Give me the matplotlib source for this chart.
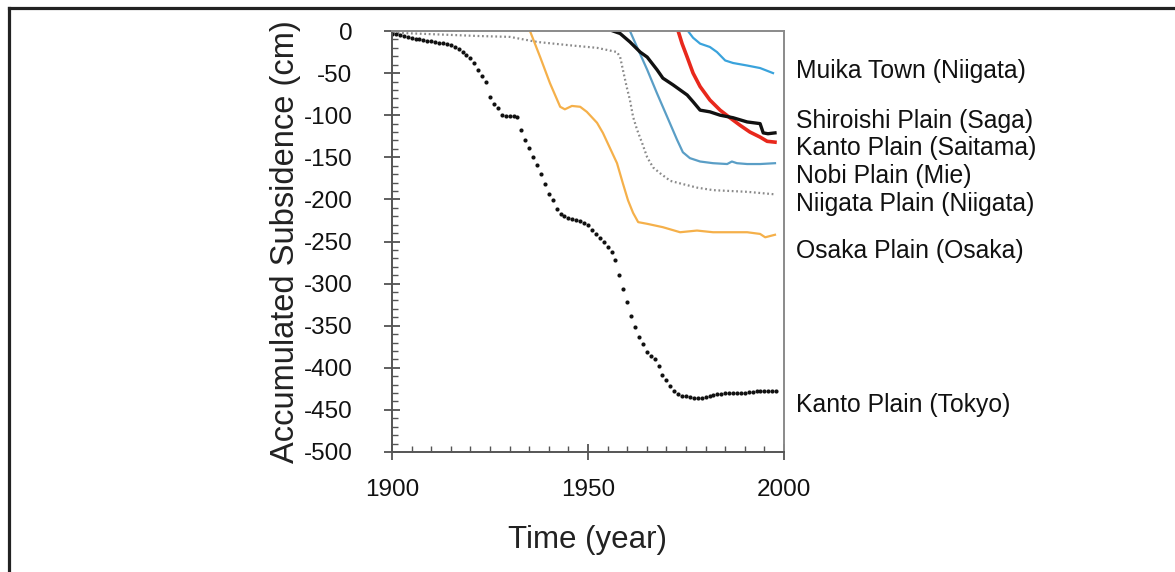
import numpy as np
import matplotlib.pyplot as plt
from matplotlib.lines import Line2D

plt.rcParams["font.family"] = ["Liberation Sans", "DejaVu Sans"]
plt.rcParams["axes.unicode_minus"] = False

# Kanto Plain (Tokyo): yearly values, 1900-1998
tokyo_years = np.arange(1900, 1999)
tokyo_vals = [-3, -4, -5, -6, -7, -8, -9, -10, -11, -12,
              -12, -13, -14, -14, -15, -17, -19, -21, -25, -29,
              -32, -38, -46, -53, -60, -78, -87, -92, -100, -101,
              -101, -101, -102, -118, -130, -139, -150, -159, -170, -182,
              -193, -201, -211, -217, -220, -222, -223, -225, -226, -228,
              -230, -236, -241, -246, -250, -256, -262, -272, -290, -306,
              -322, -338, -352, -363, -372, -381, -386, -390, -398, -408,
              -415, -422, -428, -431, -433, -434, -435, -436, -436, -436,
              -435, -434, -432, -431, -431, -430, -430, -430, -430, -430,
              -430, -429, -429, -428, -428, -428, -428, -428, -428]

niigata_years = [1900.3, 1922.4, 1930.1, 1937.0, 1945.4, 1952.3, 1957.4, 1958.2,
                 1958.9, 1959.9, 1960.7, 1961.5, 1962.5, 1963.8, 1965.1, 1966.6,
                 1968.4, 1971.0, 1973.5, 1977.8, 1981.9, 1986.2, 1990.6, 1997.7]
niigata_vals = [-2, -6, -7, -13, -17, -20, -25, -31, -46, -67, -82, -102, -117,
                -133, -150, -162, -169, -178, -181, -186, -189, -190, -191, -194]

osaka_years = [1935.2, 1937.8, 1940.3, 1942.9, 1944.1, 1945.9, 1948.0, 1949.7,
               1952.3, 1953.8, 1955.6, 1957.4, 1958.9, 1960.2, 1961.5, 1962.8,
               1965.1, 1969.1, 1973.5, 1977.8, 1981.9, 1986.2, 1990.6, 1993.9,
               1995.2, 1997.7]
osaka_vals = [0, -31, -62, -90, -93, -89, -90, -96, -109, -121, -139, -157, -181,
              -201, -216, -227, -229, -233, -239, -237, -239, -239, -239, -241,
              -245, -242]

nobi_years = [1960.7, 1962.5, 1965.1, 1967.6, 1970.2, 1972.7, 1974.2, 1976.0,
              1978.6, 1981.9, 1985.5, 1986.7, 1988.0, 1990.6, 1993.9, 1997.7]
nobi_vals = [0, -19, -46, -74, -102, -129, -144, -151, -155, -157, -158, -155,
             -157, -158, -158, -157]

muika_years = [1975.5, 1976.8, 1978.6, 1981.1, 1982.9, 1985.0, 1987.0, 1990.6,
               1993.9, 1997.2]
muika_vals = [0, -8, -15, -19, -25, -35, -38, -41, -44, -50]

shiroishi_years = [1956.4, 1958.2, 1960.7, 1963.3, 1965.1, 1967.6, 1969.1, 1971.7,
                   1973.5, 1975.3, 1976.8, 1978.6, 1981.1, 1983.7, 1987.0, 1990.6,
                   1993.9, 1994.7, 1995.9, 1997.7]
shiroishi_vals = [0, -3, -13, -25, -31, -46, -56, -64, -70, -76, -84, -94, -96,
                  -100, -103, -108, -110, -121, -122, -121]

saitama_years = [1973.0, 1974.0, 1975.3, 1976.8, 1978.6, 1981.1, 1983.7, 1986.2,
                 1988.8, 1991.3, 1993.9, 1995.7, 1997.7]
saitama_vals = [0, -15, -31, -50, -66, -82, -94, -103, -112, -120, -126, -131, -132]

labels = ["Muika Town (Niigata)", "Shiroishi Plain (Saga)", "Kanto Plain (Saitama)",
          "Nobi Plain (Mie)", "Niigata Plain (Niigata)", "Osaka Plain (Osaka)",
          "Kanto Plain (Tokyo)"]
label_y = [-47.5, -107, -139, -172, -205.5, -261, -444]

fig = plt.figure(figsize=(11.75, 5.72), dpi=100)
ax = fig.add_axes([392 / 1175, 120 / 572, 392 / 1175, 421 / 572])

# frame of the whole picture (left and top only)
fig.add_artist(Line2D([8.5 / 1175, 8.5 / 1175], [0, 1 - 7.5 / 572],
                      transform=fig.transFigure, color="#222222", lw=2.3))
fig.add_artist(Line2D([8.5 / 1175, 1], [1 - 7.5 / 572, 1 - 7.5 / 572],
                      transform=fig.transFigure, color="#222222", lw=2.3))

ax.plot(niigata_years, niigata_vals, color="#8a8a8a", lw=1.6,
        linestyle=(0, (0.8, 1.2)))
ax.plot(osaka_years, osaka_vals, color="#f5b04a", lw=1.6)
ax.plot(nobi_years, nobi_vals, color="#5a9ec6", lw=1.6)
ax.plot(muika_years, muika_vals, color="#3aa3dc", lw=1.6)
ax.plot(saitama_years, saitama_vals, color="#e8281c", lw=2.6)
ax.plot(shiroishi_years, shiroishi_vals, color="#111111", lw=2.4)
ax.plot(tokyo_years, tokyo_vals, "o", color="#111111", ms=3.0, mew=0)

for lab, yy in zip(labels, label_y):
    ax.text(2003.1, yy, lab, fontsize=17.8, va="center", ha="left",
            color="#111111", clip_on=False)

ax.set_xlim(1900, 2000)
ax.set_ylim(-500, 0)
ax.set_xticks([1900, 1950, 2000])
ax.set_xticks(np.arange(1900, 2001, 5), minor=True)
ax.set_yticks(np.arange(-500, 1, 50))
ax.set_yticks(np.arange(-500, 1, 10), minor=True)

for s in ax.spines.values():
    s.set_color("#8a8a8a")
    s.set_linewidth(1.4)
ax.spines["left"].set_color("#555555")
ax.spines["bottom"].set_color("#555555")

ax.tick_params(axis="both", which="major", direction="inout", length=11,
               width=1.2, color="#444444", labelsize=17.5, labelcolor="#111111")
ax.tick_params(axis="both", which="minor", direction="in", length=4,
               width=1.0, color="#555555")
ax.tick_params(axis="y", which="major", pad=23)
ax.tick_params(axis="x", which="major", pad=14)
ax.tick_params(top=False, right=False, which="both")

ax.set_xlabel("Time (year)", fontsize=22.5, color="#222222", labelpad=17)
ax.set_ylabel("Accumulated Subsidence (cm)", fontsize=23.5, color="#222222",
              labelpad=2)

fig.savefig("out.png", dpi=100)
